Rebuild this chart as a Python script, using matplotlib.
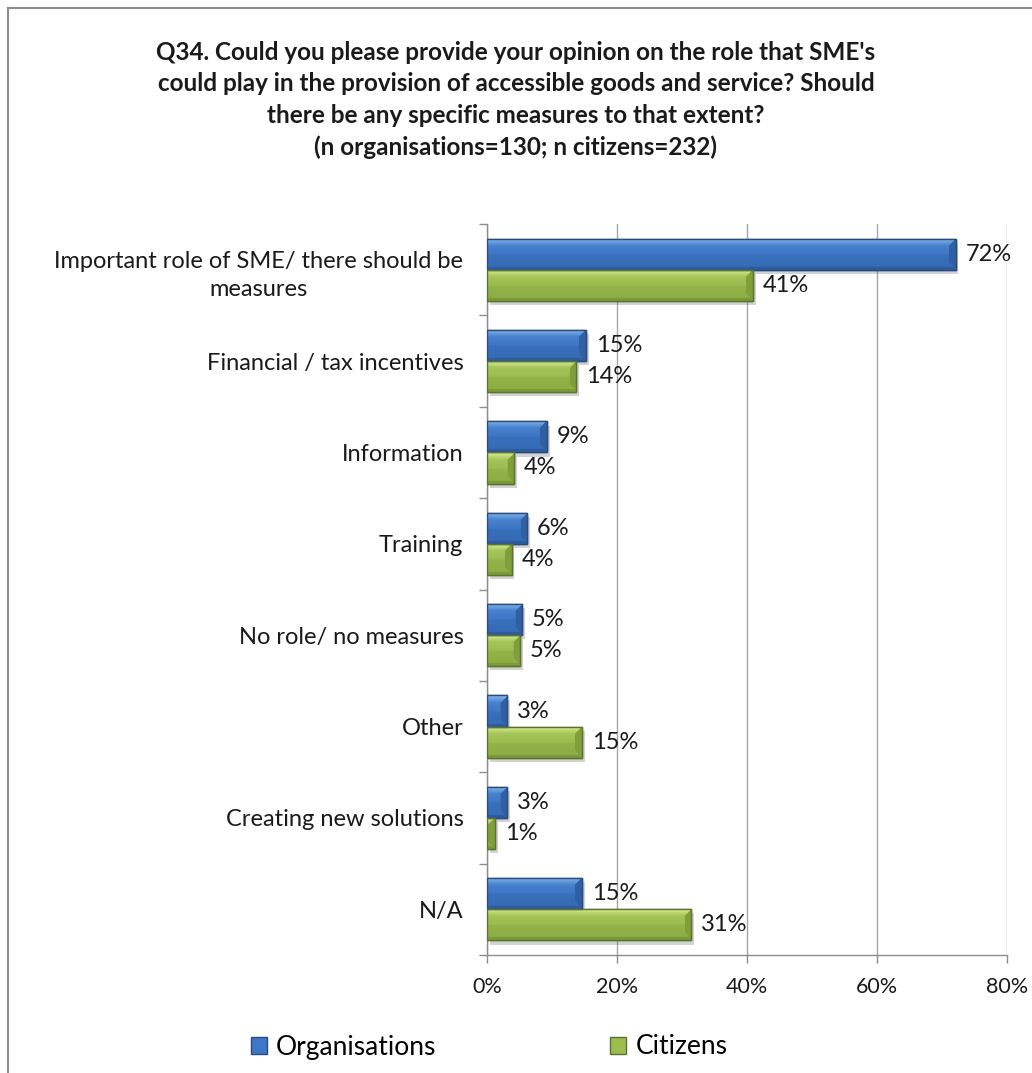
import matplotlib
import numpy as np

matplotlib.use("Agg")
import matplotlib.pyplot as plt
from matplotlib import patheffects
from matplotlib.lines import Line2D
from matplotlib.patches import Patch
from matplotlib.ticker import FixedLocator, FuncFormatter

plt.rcParams["font.family"] = ["Lato", "DejaVu Sans"]

title = (
    "Q34. Could you please provide your opinion on the role that SME's\n"
    "could play in the provision of accessible goods and service? Should\n"
    "there be any specific measures to that extent?\n"
    "(n organisations=130; n citizens=232)"
)

categories = [
    "Important role of SME/ there should be\nmeasures",
    "Financial / tax incentives",
    "Information",
    "Training",
    "No role/ no measures",
    "Other",
    "Creating new solutions",
    "N/A",
]
organisations = [72.1, 15.2, 9.2, 6.2, 5.4, 3.1, 3.1, 14.6]
citizens = [40.9, 13.7, 4.2, 3.8, 5.1, 14.6, 1.2, 31.4]
series_names = ["Organisations", "Citizens"]
x_ticks = [0, 20, 40, 60, 80]

# (highlight, base, shade, edge) per series
BLUE = ("#8cc0f4", "#3d77c6", "#2d5c9f", "#2a4b7c")
GREEN = ("#e4f59a", "#9cbd4f", "#7c9a38", "#5b7330")

W_PX, H_PX = 1032, 1073
fig = plt.figure(figsize=(W_PX / 100, H_PX / 100), dpi=100)
ax = fig.add_axes([487 / W_PX, 1 - 955 / H_PX, 520 / W_PX, 731 / H_PX])

BAR_H = 0.34
px_per_x = 520 / 80.0
px_per_y = 731 / 8.0


def _hex(c):
    return np.array(matplotlib.colors.to_rgb(c))


def _bevel_image(width_px, height_px, palette):
    hi, base, shade, _ = (_hex(c) for c in palette)
    nx = max(int(round(width_px)), 2)
    ny = max(int(round(height_px)), 2)
    img = np.zeros((ny, nx, 3))
    bevel = 7.0
    for r in range(ny):
        t = r / (ny - 1)
        # body: light towards the top, darker towards the bottom
        body = base * (1 - 0.5 * t) + shade * 0.5 * t if t > 0.5 else base * (0.75 + 0.5 * t) + hi * (0.25 - 0.5 * t)
        img[r, :] = body
        for c in range(nx):
            d_top = r
            d_bot = ny - 1 - r
            d_right = nx - 1 - c
            if d_top < bevel and d_top <= d_right:
                img[r, c] = hi * (1 - d_top / bevel) * 0.8 + body * (0.2 + 0.8 * d_top / bevel)
            elif d_right < bevel and d_right < d_bot:
                img[r, c] = shade * 0.85 + base * 0.15
            elif d_bot < 3:
                img[r, c] = shade
    return np.clip(img, 0, 1)


def _draw_bar(ax, y, value, palette):
    edge = palette[3]
    rect = ax.barh(y, value, height=BAR_H, color="none", edgecolor=edge, linewidth=1.0, zorder=4)[0]
    rect.set_path_effects([
        patheffects.SimplePatchShadow(offset=(2, -3), shadow_rgbFace="#808080", alpha=0.35),
        patheffects.Normal(),
    ])
    img = _bevel_image(value * px_per_x, BAR_H * px_per_y, palette)
    im = ax.imshow(img, extent=[0, value, y + BAR_H / 2, y - BAR_H / 2], aspect="auto",
                   interpolation="bilinear", origin="upper", zorder=5)
    im.set_clip_path(rect)
    ax.barh(y, value, height=BAR_H, color="none", edgecolor=edge, linewidth=1.0, zorder=6)


y = np.arange(len(categories))
for i, (org, cit) in enumerate(zip(organisations, citizens)):
    _draw_bar(ax, y[i] - BAR_H / 2, org, BLUE)
    _draw_bar(ax, y[i] + BAR_H / 2, cit, GREEN)
    for val, yy in ((org, y[i] - BAR_H / 2), (cit, y[i] + BAR_H / 2)):
        ax.annotate(f"{val:.0f}%", (val, yy), xytext=(7, 0), textcoords="offset points",
                    ha="left", va="center", fontsize=17, color="#1a1a1a", zorder=7)

ax.set_xlim(0, 80)
ax.set_ylim(len(categories) - 0.5, -0.5)

ax.set_xticks(x_ticks)
ax.xaxis.set_major_formatter(FuncFormatter(lambda v, _: f"{v:.0f}%"))
ax.grid(axis="x", color="#a6a6a6", linewidth=1.0, zorder=0)
ax.set_axisbelow(True)

ax.set_yticks(y)
ax.set_yticklabels(categories, multialignment="center", linespacing=1.45)
ax.yaxis.set_minor_locator(FixedLocator(np.arange(-0.5, len(categories), 1.0)))
ax.tick_params(axis="y", which="major", length=0, pad=17, labelsize=17, labelcolor="#1a1a1a")
ax.tick_params(axis="y", which="minor", length=6, width=1.0, color="#8c8c8c", direction="out")
ax.tick_params(axis="x", length=6, width=1.0, color="#8c8c8c", pad=10, labelsize=15.5, labelcolor="#1a1a1a")

for side in ("top", "right"):
    ax.spines[side].set_visible(False)
for side in ("left", "bottom"):
    ax.spines[side].set_color("#8c8c8c")
    ax.spines[side].set_linewidth(1.0)

fig.text(0.5, 1 - 41 / H_PX, title, ha="center", va="top", fontsize=17.5, fontweight="bold",
         linespacing=1.44, color="#1a1a1a")

handles = [
    Patch(facecolor=BLUE[1], edgecolor=BLUE[3], label=series_names[0]),
    Patch(facecolor=GREEN[1], edgecolor=GREEN[3], label=series_names[1]),
]
fig.legend(handles=handles, loc="center", bbox_to_anchor=(0.474, 1 - 1047 / H_PX), ncol=2,
           frameon=False, fontsize=19, handlelength=0.6, handleheight=0.6, handletextpad=0.35,
           columnspacing=6.6)

# outer chart frame
frame_kw = dict(color="#8c8c8c", linewidth=1.5, transform=fig.transFigure)
fig.add_artist(Line2D([8 / W_PX, 8 / W_PX], [0, 1 - 8 / H_PX], **frame_kw))
fig.add_artist(Line2D([8 / W_PX, 1], [1 - 8 / H_PX, 1 - 8 / H_PX], **frame_kw))

fig.savefig("out.png", dpi=100)
